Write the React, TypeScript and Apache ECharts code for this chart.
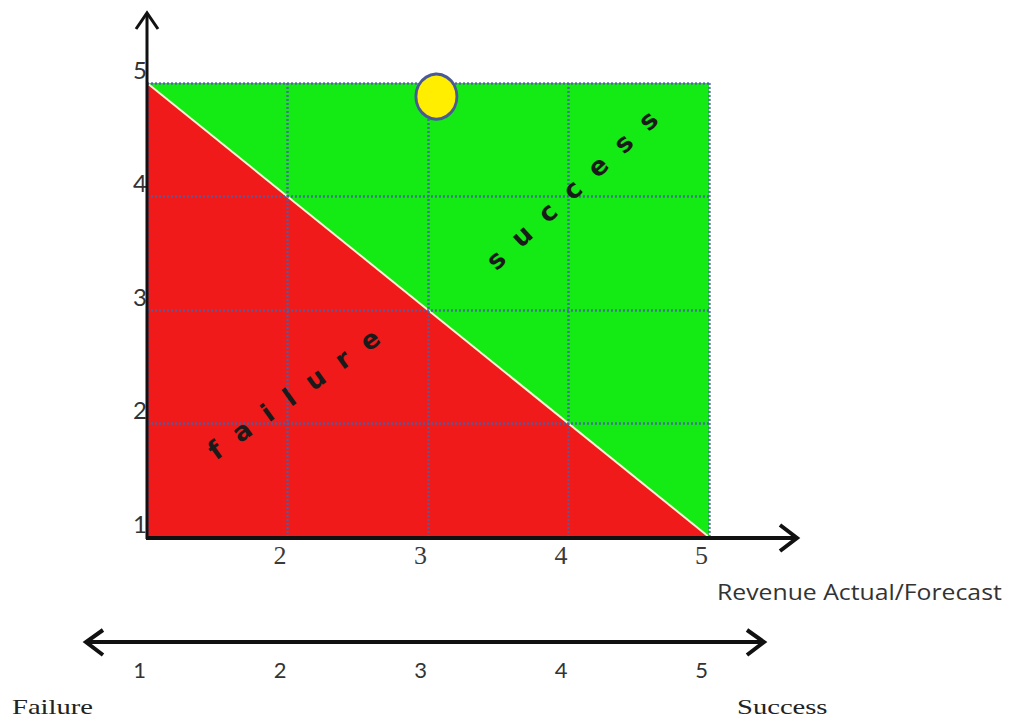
import React, { useEffect, useRef } from "react";
import * as echarts from "echarts";

// ---- data ----
const xTickValues = [1, 2, 3, 4, 5];
const yTickValues = [1, 2, 3, 4, 5];
const scaleLabels = ["1", "2", "3", "4", "5"];
const successRegion = [[1, 5], [5, 5], [5, 1]];
const failureRegion = [[1, 5], [5, 1], [1, 1]];
const boundaryLine = [[1, 5], [5, 1]];
const currentPosition = [[3.06, 4.88]];
const axisTitle = "Revenue Actual/Forecast";
const regionLabels = ["success", "failure"];
const endLabels = ["Failure", "Success"];

const GREEN = "#14ea14";
const RED = "#f01a1a";
const GRID_LINE = "rgba(75,95,165,0.85)";

function polygonSeries(region: number[][], color: string) {
  return {
    type: "custom",
    xAxisIndex: 0,
    yAxisIndex: 0,
    data: [0],
    z: 1,
    silent: true,
    renderItem: (_params: any, api: any) => ({
      type: "polygon",
      shape: { points: region.map((p) => api.coord(p)) },
      style: { fill: color },
    }),
  };
}

export default function App() {
  const ref = useRef<HTMLDivElement>(null);

  useEffect(() => {
    if (!ref.current) return;
    const chart = echarts.init(ref.current, null, { renderer: "svg" });
    const sp = (s: string) => s.split("").join("  ");
    const option: any = {
      animation: false,
      backgroundColor: "#ffffff",
      grid: [
        { left: 147, top: 83, width: 562, height: 454, containLabel: false, outerBoundsMode: "none" },
        { left: 147, top: 642, width: 562, height: 1, containLabel: false, outerBoundsMode: "none" },
      ],
      xAxis: [
        {
          type: "value",
          gridIndex: 0,
          min: xTickValues[0],
          max: xTickValues[xTickValues.length - 1],
          interval: 1,
          z: 5,
          axisLine: { show: false },
          axisTick: { show: false },
          splitLine: { show: true, lineStyle: { color: GRID_LINE, type: [2, 2], width: 2.5 } },
          axisLabel: {
            showMinLabel: false,
            margin: 5,
            align: "right",
            padding: [0, 1, 0, 0],
            fontFamily: "Liberation Serif",
            fontSize: 26,
            color: "#3a3a3a",
          },
        },
        {
          type: "value",
          gridIndex: 1,
          min: xTickValues[0],
          max: xTickValues[xTickValues.length - 1],
          interval: 1,
          axisLine: { show: false },
          axisTick: { show: false },
          splitLine: { show: false },
          axisLabel: {
            margin: 15,
            align: "right",
            padding: [0, 1, 0, 0],
            fontFamily: "Lato",
            fontSize: 22,
            color: "#333",
            formatter: (v: number) => scaleLabels[xTickValues.indexOf(v)] ?? "",
          },
        },
      ],
      yAxis: [
        {
          type: "value",
          gridIndex: 0,
          min: yTickValues[0],
          max: yTickValues[yTickValues.length - 1],
          interval: 1,
          z: 5,
          axisLine: { show: false },
          axisTick: { show: false },
          splitLine: { show: true, lineStyle: { color: GRID_LINE, type: [2, 2], width: 2.5 } },
          axisLabel: {
            margin: 0,
            verticalAlign: "bottom",
            padding: [0, 0, 2, 0],
            fontFamily: "Lato",
            fontSize: 24,
            color: "#333",
          },
        },
        { type: "value", gridIndex: 1, min: 0, max: 1, show: false },
      ],
      series: [
        polygonSeries(successRegion, GREEN),
        polygonSeries(failureRegion, RED),
        {
          type: "line",
          data: boundaryLine,
          z: 3,
          symbol: "none",
          silent: true,
          lineStyle: { color: "#f6f2d6", width: 2 },
        },
        {
          type: "scatter",
          data: currentPosition,
          z: 10,
          symbol: "circle",
          symbolSize: [41, 45],
          itemStyle: { color: "#ffee00", borderColor: "#4a5898", borderWidth: 3, opacity: 1 },
        },
      ],
      graphic: [
        // axis lines and arrow heads
        { type: "line", z: 20, shape: { x1: 147, y1: 539, x2: 147, y2: 14 }, style: { stroke: "#111", lineWidth: 3 } },
        { type: "polyline", z: 20, shape: { points: [[136, 29], [147, 13], [158, 29]] }, style: { stroke: "#111", lineWidth: 3, fill: null } },
        { type: "line", z: 20, shape: { x1: 146, y1: 538, x2: 795, y2: 538 }, style: { stroke: "#111", lineWidth: 4 } },
        { type: "polyline", z: 20, shape: { points: [[780, 525], [797, 538], [780, 551]] }, style: { stroke: "#111", lineWidth: 4, fill: null } },
        { type: "line", z: 20, shape: { x1: 87, y1: 642, x2: 763, y2: 642 }, style: { stroke: "#111", lineWidth: 4 } },
        { type: "polyline", z: 20, shape: { points: [[103, 630], [86, 642], [103, 655]] }, style: { stroke: "#111", lineWidth: 4, fill: null } },
        { type: "polyline", z: 20, shape: { points: [[747, 630], [764, 642], [747, 655]] }, style: { stroke: "#111", lineWidth: 4, fill: null } },
        // region labels
        {
          type: "text", z: 25, x: 572, y: 190, rotation: 0.74,
          style: { text: sp(regionLabels[0]), fontFamily: "DejaVu Sans", fontWeight: "bold", fontSize: 26, fill: "#1a1a1a", align: "center", verticalAlign: "middle" },
        },
        {
          type: "text", z: 25, x: 294, y: 394, rotation: 0.62,
          style: { text: sp(regionLabels[1]), fontFamily: "DejaVu Sans", fontWeight: "bold", fontSize: 26, fill: "#1a1a1a", align: "center", verticalAlign: "middle" },
        },
        // axis title
        {
          type: "text", z: 25, x: 717, y: 592, scaleX: 1.18,
          style: { text: axisTitle, fontFamily: "Open Sans", fontSize: 21, fill: "#333", align: "left", verticalAlign: "middle" },
        },
        // end labels
        {
          type: "text", z: 25, x: 12, y: 707, scaleX: 1.3,
          style: { text: endLabels[0], fontFamily: "Liberation Serif", fontSize: 22, fill: "#222", align: "left", verticalAlign: "middle" },
        },
        {
          type: "text", z: 25, x: 737, y: 707, scaleX: 1.3,
          style: { text: endLabels[1], fontFamily: "Liberation Serif", fontSize: 22, fill: "#222", align: "left", verticalAlign: "middle" },
        },
      ],
    };
    chart.setOption(option);
    return () => chart.dispose();
  }, []);

  return (
    <div
      ref={ref}
      style={{ position: "fixed", left: 0, top: 0, width: 1015, height: 720, background: "#fff" }}
    />
  );
}
